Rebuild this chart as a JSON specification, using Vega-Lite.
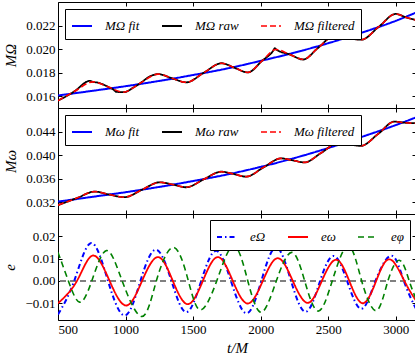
{
  "$schema": "https://vega.github.io/schema/vega-lite/v6.json",
  "background": "white",
  "padding": {"left": 2, "top": 1, "right": 2, "bottom": 0},
  "config": {
    "font": "Liberation Serif",
    "view": {"stroke": "black", "strokeWidth": 1},
    "axis": {
      "domain": false, "grid": false, "tickColor": "black", "tickSize": -4, "tickWidth": 1,
      "labelFont": "Liberation Serif", "labelFontSize": 13, "labelColor": "black", "labelPadding": 7,
      "titleFont": "Liberation Serif", "titleFontSize": 15, "titleFontWeight": "normal", "titleFontStyle": "italic", "titleColor": "black"
    },
    "legend": {
      "direction": "horizontal", "title": null, "strokeColor": "black", "fillColor": "white", "padding": 6,
      "symbolType": "stroke", "symbolSize": 400, "symbolStrokeWidth": 1.6,
      "labelFont": "Liberation Serif", "labelFontSize": 13, "labelFontStyle": "italic", "labelColor": "black",
      "columnPadding": 18, "labelOffset": 12, "cornerRadius": 0
    }
  },
  "datasets": {
    "p1": [
      {"t": 500, "v": 0.01606, "s": "MΩ fit"}, {"t": 750, "v": 0.01645, "s": "MΩ fit"}, {"t": 1000, "v": 0.01685, "s": "MΩ fit"},
      {"t": 1250, "v": 0.0173, "s": "MΩ fit"}, {"t": 1500, "v": 0.0178, "s": "MΩ fit"}, {"t": 1750, "v": 0.01835, "s": "MΩ fit"},
      {"t": 2000, "v": 0.019, "s": "MΩ fit"}, {"t": 2250, "v": 0.0197, "s": "MΩ fit"}, {"t": 2500, "v": 0.0205, "s": "MΩ fit"},
      {"t": 2750, "v": 0.0214, "s": "MΩ fit"}, {"t": 3000, "v": 0.0224, "s": "MΩ fit"}, {"t": 3150, "v": 0.0231, "s": "MΩ fit"},
      {"t": 500, "v": 0.01562, "s": "MΩ raw"}, {"t": 620, "v": 0.0164, "s": "MΩ raw"}, {"t": 735, "v": 0.0173, "s": "MΩ raw"},
      {"t": 760, "v": 0.01722, "s": "MΩ raw"}, {"t": 800, "v": 0.01714, "s": "MΩ raw"}, {"t": 870, "v": 0.0168, "s": "MΩ raw"},
      {"t": 915, "v": 0.01652, "s": "MΩ raw"}, {"t": 930, "v": 0.01638, "s": "MΩ raw"}, {"t": 985, "v": 0.01634, "s": "MΩ raw"},
      {"t": 1060, "v": 0.01675, "s": "MΩ raw"}, {"t": 1110, "v": 0.01712, "s": "MΩ raw"}, {"t": 1180, "v": 0.01768, "s": "MΩ raw"},
      {"t": 1240, "v": 0.01788, "s": "MΩ raw"}, {"t": 1345, "v": 0.01752, "s": "MΩ raw"}, {"t": 1450, "v": 0.01718, "s": "MΩ raw"},
      {"t": 1580, "v": 0.018, "s": "MΩ raw"}, {"t": 1710, "v": 0.0188, "s": "MΩ raw"}, {"t": 1810, "v": 0.0184, "s": "MΩ raw"},
      {"t": 1905, "v": 0.01802, "s": "MΩ raw"}, {"t": 2010, "v": 0.019, "s": "MΩ raw"}, {"t": 2095, "v": 0.0199, "s": "MΩ raw"},
      {"t": 2105, "v": 0.02008, "s": "MΩ raw"}, {"t": 2115, "v": 0.01997, "s": "MΩ raw"}, {"t": 2215, "v": 0.01955, "s": "MΩ raw"},
      {"t": 2315, "v": 0.01912, "s": "MΩ raw"}, {"t": 2425, "v": 0.0201, "s": "MΩ raw"}, {"t": 2540, "v": 0.02108, "s": "MΩ raw"},
      {"t": 2640, "v": 0.02094, "s": "MΩ raw"}, {"t": 2745, "v": 0.0208, "s": "MΩ raw"}, {"t": 2875, "v": 0.0219, "s": "MΩ raw"},
      {"t": 3000, "v": 0.02299, "s": "MΩ raw"}, {"t": 3075, "v": 0.0227, "s": "MΩ raw"}, {"t": 3150, "v": 0.02246, "s": "MΩ raw"},
      {"t": 500, "v": 0.01562, "s": "MΩ filtered"}, {"t": 620, "v": 0.0164, "s": "MΩ filtered"}, {"t": 760, "v": 0.01722, "s": "MΩ filtered"},
      {"t": 870, "v": 0.0168, "s": "MΩ filtered"}, {"t": 985, "v": 0.01634, "s": "MΩ filtered"}, {"t": 1110, "v": 0.01712, "s": "MΩ filtered"},
      {"t": 1240, "v": 0.01788, "s": "MΩ filtered"}, {"t": 1345, "v": 0.01752, "s": "MΩ filtered"}, {"t": 1450, "v": 0.01718, "s": "MΩ filtered"},
      {"t": 1580, "v": 0.018, "s": "MΩ filtered"}, {"t": 1710, "v": 0.0188, "s": "MΩ filtered"}, {"t": 1810, "v": 0.0184, "s": "MΩ filtered"},
      {"t": 1905, "v": 0.01802, "s": "MΩ filtered"}, {"t": 2010, "v": 0.019, "s": "MΩ filtered"}, {"t": 2115, "v": 0.01997, "s": "MΩ filtered"},
      {"t": 2215, "v": 0.01955, "s": "MΩ filtered"}, {"t": 2315, "v": 0.01912, "s": "MΩ filtered"}, {"t": 2425, "v": 0.0201, "s": "MΩ filtered"},
      {"t": 2540, "v": 0.02108, "s": "MΩ filtered"}, {"t": 2640, "v": 0.02094, "s": "MΩ filtered"}, {"t": 2745, "v": 0.0208, "s": "MΩ filtered"},
      {"t": 2875, "v": 0.0219, "s": "MΩ filtered"}, {"t": 3000, "v": 0.02299, "s": "MΩ filtered"}, {"t": 3075, "v": 0.0227, "s": "MΩ filtered"},
      {"t": 3150, "v": 0.02246, "s": "MΩ filtered"}
    ],
    "p2": [
      {"t": 500, "v": 0.0321, "s": "Mω fit"}, {"t": 750, "v": 0.0329, "s": "Mω fit"}, {"t": 1000, "v": 0.0337, "s": "Mω fit"},
      {"t": 1250, "v": 0.0346, "s": "Mω fit"}, {"t": 1500, "v": 0.0356, "s": "Mω fit"}, {"t": 1750, "v": 0.0367, "s": "Mω fit"},
      {"t": 2000, "v": 0.038, "s": "Mω fit"}, {"t": 2250, "v": 0.0395, "s": "Mω fit"}, {"t": 2500, "v": 0.0412, "s": "Mω fit"},
      {"t": 2750, "v": 0.0431, "s": "Mω fit"}, {"t": 3000, "v": 0.0451, "s": "Mω fit"}, {"t": 3150, "v": 0.0464, "s": "Mω fit"},
      {"t": 500, "v": 0.0315, "s": "Mω raw"}, {"t": 640, "v": 0.0327, "s": "Mω raw"}, {"t": 771, "v": 0.0338, "s": "Mω raw"},
      {"t": 880, "v": 0.0333, "s": "Mω raw"}, {"t": 993, "v": 0.03285, "s": "Mω raw"}, {"t": 1120, "v": 0.0341, "s": "Mω raw"},
      {"t": 1252, "v": 0.03538, "s": "Mω raw"}, {"t": 1350, "v": 0.035, "s": "Mω raw"}, {"t": 1449, "v": 0.03454, "s": "Mω raw"},
      {"t": 1580, "v": 0.0359, "s": "Mω raw"}, {"t": 1708, "v": 0.03718, "s": "Mω raw"}, {"t": 1800, "v": 0.0368, "s": "Mω raw"},
      {"t": 1893, "v": 0.03634, "s": "Mω raw"}, {"t": 2020, "v": 0.0379, "s": "Mω raw"}, {"t": 2151, "v": 0.03944, "s": "Mω raw"},
      {"t": 2240, "v": 0.0391, "s": "Mω raw"}, {"t": 2324, "v": 0.03876, "s": "Mω raw"}, {"t": 2450, "v": 0.0404, "s": "Mω raw"},
      {"t": 2570, "v": 0.04203, "s": "Mω raw"}, {"t": 2660, "v": 0.0418, "s": "Mω raw"}, {"t": 2743, "v": 0.04158, "s": "Mω raw"},
      {"t": 2870, "v": 0.0436, "s": "Mω raw"}, {"t": 2990, "v": 0.04569, "s": "Mω raw"}, {"t": 3070, "v": 0.0455, "s": "Mω raw"},
      {"t": 3150, "v": 0.04541, "s": "Mω raw"},
      {"t": 500, "v": 0.0315, "s": "Mω filtered"}, {"t": 640, "v": 0.0327, "s": "Mω filtered"}, {"t": 771, "v": 0.0338, "s": "Mω filtered"},
      {"t": 880, "v": 0.0333, "s": "Mω filtered"}, {"t": 993, "v": 0.03285, "s": "Mω filtered"}, {"t": 1120, "v": 0.0341, "s": "Mω filtered"},
      {"t": 1252, "v": 0.03538, "s": "Mω filtered"}, {"t": 1350, "v": 0.035, "s": "Mω filtered"}, {"t": 1449, "v": 0.03454, "s": "Mω filtered"},
      {"t": 1580, "v": 0.0359, "s": "Mω filtered"}, {"t": 1708, "v": 0.03718, "s": "Mω filtered"}, {"t": 1800, "v": 0.0368, "s": "Mω filtered"},
      {"t": 1893, "v": 0.03634, "s": "Mω filtered"}, {"t": 2020, "v": 0.0379, "s": "Mω filtered"}, {"t": 2151, "v": 0.03944, "s": "Mω filtered"},
      {"t": 2240, "v": 0.0391, "s": "Mω filtered"}, {"t": 2324, "v": 0.03876, "s": "Mω filtered"}, {"t": 2450, "v": 0.0404, "s": "Mω filtered"},
      {"t": 2570, "v": 0.04203, "s": "Mω filtered"}, {"t": 2660, "v": 0.0418, "s": "Mω filtered"}, {"t": 2743, "v": 0.04158, "s": "Mω filtered"},
      {"t": 2870, "v": 0.0436, "s": "Mω filtered"}, {"t": 2990, "v": 0.04569, "s": "Mω filtered"}, {"t": 3070, "v": 0.0455, "s": "Mω filtered"},
      {"t": 3150, "v": 0.04541, "s": "Mω filtered"}
    ],
    "p3": [
      {"t": 500, "v": -0.015, "s": "eΩ"}, {"t": 620, "v": 0, "s": "eΩ"}, {"t": 745, "v": 0.017, "s": "eΩ"},
      {"t": 870, "v": 0, "s": "eΩ"}, {"t": 995, "v": -0.0155, "s": "eΩ"}, {"t": 1110, "v": 0, "s": "eΩ"},
      {"t": 1225, "v": 0.014, "s": "eΩ"}, {"t": 1340, "v": 0, "s": "eΩ"}, {"t": 1450, "v": -0.014, "s": "eΩ"},
      {"t": 1560, "v": 0, "s": "eΩ"}, {"t": 1670, "v": 0.0135, "s": "eΩ"}, {"t": 1780, "v": 0, "s": "eΩ"},
      {"t": 1895, "v": -0.0145, "s": "eΩ"}, {"t": 2005, "v": 0, "s": "eΩ"}, {"t": 2115, "v": 0.015, "s": "eΩ"},
      {"t": 2225, "v": 0, "s": "eΩ"}, {"t": 2335, "v": -0.0138, "s": "eΩ"}, {"t": 2440, "v": 0, "s": "eΩ"},
      {"t": 2540, "v": 0.0112, "s": "eΩ"}, {"t": 2640, "v": 0, "s": "eΩ"}, {"t": 2745, "v": -0.0125, "s": "eΩ"},
      {"t": 2850, "v": 0, "s": "eΩ"}, {"t": 2970, "v": 0.0113, "s": "eΩ"}, {"t": 3060, "v": 0, "s": "eΩ"},
      {"t": 3150, "v": -0.0125, "s": "eΩ"},
      {"t": 500, "v": -0.01, "s": "eω"}, {"t": 640, "v": 0, "s": "eω"}, {"t": 759, "v": 0.0114, "s": "eω"},
      {"t": 882, "v": 0, "s": "eω"}, {"t": 1005, "v": -0.011, "s": "eω"}, {"t": 1122, "v": 0, "s": "eω"},
      {"t": 1240, "v": 0.0107, "s": "eω"}, {"t": 1350, "v": 0, "s": "eω"}, {"t": 1461, "v": -0.0104, "s": "eω"},
      {"t": 1572, "v": 0, "s": "eω"}, {"t": 1683, "v": 0.0107, "s": "eω"}, {"t": 1794, "v": 0, "s": "eω"},
      {"t": 1905, "v": -0.0101, "s": "eω"}, {"t": 2016, "v": 0, "s": "eω"}, {"t": 2127, "v": 0.0102, "s": "eω"},
      {"t": 2238, "v": 0, "s": "eω"}, {"t": 2349, "v": -0.0098, "s": "eω"}, {"t": 2453, "v": 0, "s": "eω"},
      {"t": 2558, "v": 0.0095, "s": "eω"}, {"t": 2656, "v": 0, "s": "eω"}, {"t": 2756, "v": -0.01, "s": "eω"},
      {"t": 2855, "v": 0, "s": "eω"}, {"t": 2955, "v": 0.0097, "s": "eω"}, {"t": 3064, "v": 0, "s": "eω"},
      {"t": 3150, "v": -0.0088, "s": "eω"},
      {"t": 500, "v": 0.0128, "s": "eφ"}, {"t": 577, "v": 0, "s": "eφ"}, {"t": 660, "v": -0.0095, "s": "eφ"},
      {"t": 750, "v": 0, "s": "eφ"}, {"t": 858, "v": 0.0136, "s": "eφ"}, {"t": 975, "v": 0, "s": "eφ"},
      {"t": 1120, "v": -0.0159, "s": "eφ"}, {"t": 1228, "v": 0, "s": "eφ"}, {"t": 1355, "v": 0.015, "s": "eφ"},
      {"t": 1465, "v": 0, "s": "eφ"}, {"t": 1555, "v": -0.013, "s": "eφ"}, {"t": 1675, "v": 0, "s": "eφ"},
      {"t": 1800, "v": 0.0157, "s": "eφ"}, {"t": 1905, "v": 0, "s": "eφ"}, {"t": 2005, "v": -0.014, "s": "eφ"},
      {"t": 2116, "v": 0, "s": "eφ"}, {"t": 2230, "v": 0.0128, "s": "eφ"}, {"t": 2326, "v": 0, "s": "eφ"},
      {"t": 2425, "v": -0.0135, "s": "eφ"}, {"t": 2530, "v": 0, "s": "eφ"}, {"t": 2648, "v": 0.0157, "s": "eφ"},
      {"t": 2748, "v": 0, "s": "eφ"}, {"t": 2856, "v": -0.0133, "s": "eφ"}, {"t": 2942, "v": 0, "s": "eφ"},
      {"t": 3030, "v": 0.0092, "s": "eφ"}, {"t": 3100, "v": 0, "s": "eφ"}, {"t": 3150, "v": -0.008, "s": "eφ"}
    ]
  },
  "vconcat": [
    {
      "width": 358, "height": 106,
      "data": {"name": "p1"},
      "layer": [
        {
          "mark": {"type": "line", "interpolate": "monotone", "clip": true},
          "encoding": {
            "x": {"field": "t", "type": "quantitative", "scale": {"domain": [500, 3150], "nice": false, "zero": false},
                  "axis": {"orient": "bottom", "values": [500, 1000, 1500, 2000, 2500, 3000], "labels": false, "title": null}},
            "y": {"field": "v", "type": "quantitative", "scale": {"domain": [0.015, 0.024], "nice": false, "zero": false},
                  "axis": {"orient": "left", "values": [0.016, 0.018, 0.02, 0.022], "format": ".3f", "title": "MΩ", "titlePadding": 7}},
            "color": {"field": "s", "type": "nominal", "scale": {"domain": ["MΩ fit", "MΩ raw", "MΩ filtered"], "range": ["#0000ff", "#000000", "#ff0000"]},
                      "legend": {"orient": "top-left", "offset": 7}},
            "strokeDash": {"field": "s", "type": "nominal", "scale": {"domain": ["MΩ fit", "MΩ raw", "MΩ filtered"], "range": [[1, 0], [1, 0], [6, 3]]},
                      "legend": {"orient": "top-left", "offset": 7}},
            "strokeWidth": {"field": "s", "type": "nominal", "scale": {"domain": ["MΩ fit", "MΩ raw", "MΩ filtered"], "range": [2, 1.6, 1.6]}, "legend": null}
          }
        },
        {
          "mark": {"type": "point", "opacity": 0},
          "encoding": {
            "x": {"field": "t", "type": "quantitative", "axis": {"orient": "top", "values": [500, 1000, 1500, 2000, 2500, 3000], "labels": false, "title": null}},
            "y": {"field": "v", "type": "quantitative", "axis": {"orient": "right", "values": [0.016, 0.018, 0.02, 0.022], "labels": false, "title": null}}
          }
        }
      ],
      "resolve": {"axis": {"x": "independent", "y": "independent"}}
    },
    {
      "width": 358, "height": 106,
      "data": {"name": "p2"},
      "layer": [
        {
          "mark": {"type": "line", "interpolate": "monotone", "clip": true},
          "encoding": {
            "x": {"field": "t", "type": "quantitative", "scale": {"domain": [500, 3150], "nice": false, "zero": false},
                  "axis": {"orient": "bottom", "values": [500, 1000, 1500, 2000, 2500, 3000], "labels": false, "title": null}},
            "y": {"field": "v", "type": "quantitative", "scale": {"domain": [0.03, 0.048], "nice": false, "zero": false},
                  "axis": {"orient": "left", "values": [0.032, 0.036, 0.04, 0.044], "format": ".3f", "title": "Mω", "titlePadding": 7}},
            "color": {"field": "s", "type": "nominal", "scale": {"domain": ["Mω fit", "Mω raw", "Mω filtered"], "range": ["#0000ff", "#000000", "#ff0000"]},
                      "legend": {"orient": "top-left", "offset": 7}},
            "strokeDash": {"field": "s", "type": "nominal", "scale": {"domain": ["Mω fit", "Mω raw", "Mω filtered"], "range": [[1, 0], [1, 0], [6, 3]]},
                      "legend": {"orient": "top-left", "offset": 7}},
            "strokeWidth": {"field": "s", "type": "nominal", "scale": {"domain": ["Mω fit", "Mω raw", "Mω filtered"], "range": [2, 1.6, 1.6]}, "legend": null}
          }
        },
        {
          "mark": {"type": "point", "opacity": 0},
          "encoding": {
            "x": {"field": "t", "type": "quantitative", "axis": {"orient": "top", "values": [500, 1000, 1500, 2000, 2500, 3000], "labels": false, "title": null}},
            "y": {"field": "v", "type": "quantitative", "axis": {"orient": "right", "values": [0.032, 0.036, 0.04, 0.044], "labels": false, "title": null}}
          }
        }
      ],
      "resolve": {"axis": {"x": "independent", "y": "independent"}}
    },
    {
      "width": 358, "height": 106,
      "data": {"name": "p3"},
      "layer": [
        {
          "mark": {"type": "rule", "color": "#808080", "strokeDash": [6, 4], "strokeWidth": 1},
          "encoding": {"y": {"datum": 0, "type": "quantitative", "axis": null}}
        },
        {
          "mark": {"type": "line", "interpolate": "natural", "clip": true},
          "encoding": {
            "x": {"field": "t", "type": "quantitative", "scale": {"domain": [500, 3150], "nice": false, "zero": false},
                  "axis": {"orient": "bottom", "values": [500, 1000, 1500, 2000, 2500, 3000], "format": "d", "title": "t/M", "titlePadding": 4}},
            "y": {"field": "v", "type": "quantitative", "scale": {"domain": [-0.0175, 0.03], "nice": false, "zero": false},
                  "axis": {"orient": "left", "values": [-0.01, 0, 0.01, 0.02], "format": ".2f", "title": "e", "titlePadding": 7}},
            "color": {"field": "s", "type": "nominal", "scale": {"domain": ["eΩ", "eω", "eφ"], "range": ["#0000ff", "#ff0000", "#008000"]},
                      "legend": {"orient": "top-right", "offset": 6}},
            "strokeDash": {"field": "s", "type": "nominal", "scale": {"domain": ["eΩ", "eω", "eφ"], "range": [[5, 3, 1.5, 3], [1, 0], [6, 4]]},
                      "legend": {"orient": "top-right", "offset": 6}},
            "strokeWidth": {"field": "s", "type": "nominal", "scale": {"domain": ["eΩ", "eω", "eφ"], "range": [2, 1.6, 2]}, "legend": null}
          }
        },
        {
          "mark": {"type": "point", "opacity": 0},
          "encoding": {
            "x": {"field": "t", "type": "quantitative", "axis": {"orient": "top", "values": [500, 1000, 1500, 2000, 2500, 3000], "labels": false, "title": null}},
            "y": {"field": "v", "type": "quantitative", "axis": {"orient": "right", "values": [-0.01, 0, 0.01, 0.02], "labels": false, "title": null}}
          }
        }
      ],
      "resolve": {"axis": {"x": "independent", "y": "independent"}}
    }
  ],
  "spacing": 0,
  "bounds": "flush",
  "resolve": {
    "scale": {"color": "independent", "strokeDash": "independent", "strokeWidth": "independent"},
    "legend": {"color": "independent", "strokeDash": "independent", "strokeWidth": "independent"}
  }
}
